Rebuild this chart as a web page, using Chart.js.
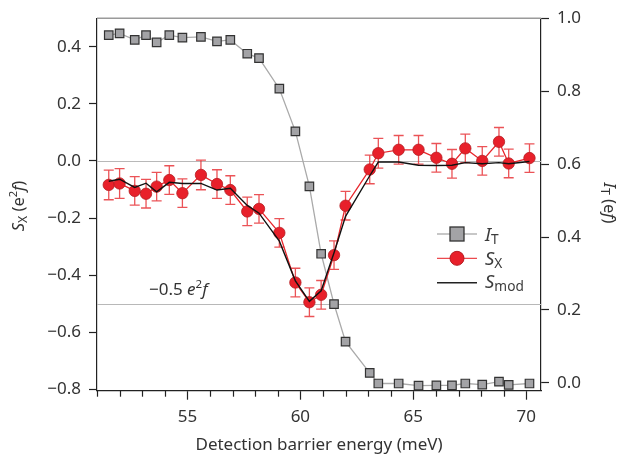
<!DOCTYPE html>
<html><head><meta charset="utf-8">
<script src="https://cdn.jsdelivr.net/npm/chart.js@4/dist/chart.umd.min.js"></script>
<style>html,body{margin:0;padding:0;background:#fff}#c{display:block}</style>
</head><body>
<canvas id="c" width="620" height="455"></canvas>
<script>
// ---- data ----
const energy = [51.52, 52.0, 52.67, 53.17, 53.64, 54.2, 54.78, 55.6, 56.31, 56.9, 57.65, 58.17, 59.07, 59.78, 60.4, 60.92, 61.49, 62.0, 63.07, 63.45, 64.35, 65.23, 66.02, 66.71, 67.3, 68.05, 68.79, 69.22, 70.14];
const itValues = [0.954, 0.959, 0.941, 0.954, 0.934, 0.954, 0.947, 0.949, 0.937, 0.941, 0.903, 0.891, 0.807, 0.690, 0.539, 0.354, 0.216, 0.113, 0.027, -0.002, -0.002, -0.008, -0.007, -0.007, -0.002, -0.005, 0.003, -0.006, -0.002];
const sxValues = [-0.084, -0.079, -0.105, -0.115, -0.090, -0.067, -0.113, -0.049, -0.081, -0.102, -0.177, -0.168, -0.252, -0.426, -0.495, -0.469, -0.330, -0.157, -0.030, 0.027, 0.039, 0.039, 0.011, -0.010, 0.044, 0.000, 0.067, -0.009, 0.010];
const sxErr = [0.052, 0.052, 0.05, 0.05, 0.05, 0.05, 0.05, 0.052, 0.05, 0.05, 0.05, 0.05, 0.05, 0.05, 0.05, 0.05, 0.05, 0.05, 0.05, 0.052, 0.05, 0.05, 0.05, 0.05, 0.05, 0.05, 0.05, 0.05, 0.05];
const smodValues = [-0.071, -0.064, -0.093, -0.078, -0.108, -0.075, -0.079, -0.079, -0.102, -0.096, -0.156, -0.183, -0.281, -0.420, -0.492, -0.455, -0.322, -0.194, -0.052, -0.004, -0.004, -0.015, -0.016, -0.015, -0.006, -0.010, -0.006, -0.010, -0.002];
const leftTicks = [-0.8, -0.6, -0.4, -0.2, 0.0, 0.2, 0.4];
const rightTicks = [0.0, 0.2, 0.4, 0.6, 0.8, 1.0];
const xTicks = [51,52,53,54,55,56,57,58,59,60,61,62,63,64,65,66,67,68,69,70];
const xMajor = [55, 60, 65, 70];
const refLines = [0.0, -0.5];

const FONT = '"Noto Sans", "Open Sans", sans-serif';
const TXT = '#333';

function segSize(s, size){ return s.sub ? size*0.74 : (s.sup ? size*0.68 : size); }
function richWidth(ctx, segs, size){
  let w = 0;
  segs.forEach(s=>{
    ctx.font = (s.it?'italic ':'') + segSize(s,size) + 'px ' + FONT;
    w += ctx.measureText(s.t).width;
  });
  return w;
}
function drawRich(ctx, segs, x, y, size, align){
  const w = richWidth(ctx, segs, size);
  let cx = align==='center' ? x - w/2 : (align==='right' ? x - w : x);
  ctx.textBaseline = 'alphabetic';
  ctx.textAlign = 'left';
  segs.forEach(s=>{
    ctx.font = (s.it?'italic ':'') + segSize(s,size) + 'px ' + FONT;
    const dy = s.sub ? size*0.18 : (s.sup ? -size*0.40 : 0);
    ctx.fillText(s.t, cx, y + dy);
    cx += ctx.measureText(s.t).width;
  });
}

const deco = {
  id: 'deco',
  beforeDatasetsDraw(chart){
    const {ctx, chartArea:a, scales:{y}} = chart;
    ctx.save();
    ctx.strokeStyle = '#b8b8b8'; ctx.lineWidth = 1.2;
    refLines.forEach(v=>{
      const py = Math.round(y.getPixelForValue(v))+0.5;
      ctx.beginPath(); ctx.moveTo(a.left, py); ctx.lineTo(a.right, py); ctx.stroke();
    });
    ctx.strokeStyle = '#9a9a9a'; ctx.lineWidth = 1.5;
    ctx.beginPath(); ctx.moveTo(a.left, a.top); ctx.lineTo(a.right, a.top); ctx.stroke();
    ctx.restore();
  },
  beforeDatasetDraw(chart, args){
    if (args.index !== 1) return;
    const {ctx, scales:{x, y}} = chart;
    ctx.save();
    ctx.strokeStyle = 'rgba(230,40,45,0.8)'; ctx.lineWidth = 1.3;
    energy.forEach((e,i)=>{
      const px = x.getPixelForValue(e);
      const y1 = y.getPixelForValue(sxValues[i]+sxErr[i]);
      const y2 = y.getPixelForValue(sxValues[i]-sxErr[i]);
      ctx.beginPath();
      ctx.moveTo(px, y1); ctx.lineTo(px, y2);
      ctx.moveTo(px-5, y1); ctx.lineTo(px+5, y1);
      ctx.moveTo(px-5, y2); ctx.lineTo(px+5, y2);
      ctx.stroke();
    });
    ctx.restore();
  },
  afterDraw(chart){
    const {ctx, chartArea:a, scales:{x, y}} = chart;
    ctx.save();
    // minor x ticks
    ctx.strokeStyle = '#222'; ctx.lineWidth = 1.2;
    xTicks.forEach(v=>{
      if (xMajor.includes(v)) return;
      const px = Math.round(x.getPixelForValue(v))+0.5;
      ctx.beginPath(); ctx.moveTo(px, a.bottom); ctx.lineTo(px, a.bottom+6); ctx.stroke();
    });
    ctx.fillStyle = TXT;
    // annotation
    drawRich(ctx, [{t:'\u22120.5 '},{t:'e',it:true},{t:'2',sup:true},{t:'f',it:true}], x.getPixelForValue(53.3), y.getPixelForValue(-0.468), 17, 'left');
    // axis titles
    ctx.save();
    ctx.translate(24, 206); ctx.rotate(-Math.PI/2);
    drawRich(ctx, [{t:'S',it:true},{t:'X',sub:true},{t:' (e'},{t:'2',sup:true},{t:'f',it:true},{t:')'}], 0, 0, 16.5, 'center');
    ctx.restore();
    ctx.save();
    ctx.translate(604, 203); ctx.rotate(Math.PI/2);
    drawRich(ctx, [{t:'I',it:true},{t:'T',sub:true},{t:' (e'},{t:'f',it:true},{t:')'}], 0, 0, 16.5, 'center');
    ctx.restore();
    ctx.font = '17px ' + FONT; ctx.textAlign = 'center'; ctx.textBaseline = 'alphabetic';
    ctx.fillText('Detection barrier energy (meV)', (a.left+a.right)/2, 450);
    // legend
    const lx1 = 437, lx2 = 477, lmid = 457, tx = 485;
    const rows = [234, 258.3, 282.7];
    // I_T
    ctx.strokeStyle = '#b4b4b4'; ctx.lineWidth = 1.3;
    ctx.beginPath(); ctx.moveTo(lx1, rows[0]); ctx.lineTo(lx2, rows[0]); ctx.stroke();
    ctx.fillStyle = '#a3a3a6'; ctx.strokeStyle = '#333'; ctx.lineWidth = 1.3;
    ctx.fillRect(lmid-7, rows[0]-7, 14, 14); ctx.strokeRect(lmid-7, rows[0]-7, 14, 14);
    // S_X
    ctx.strokeStyle = '#ec4a4e'; ctx.lineWidth = 1.3;
    ctx.beginPath(); ctx.moveTo(lx1, rows[1]); ctx.lineTo(lx2, rows[1]); ctx.stroke();
    ctx.fillStyle = '#e8202a'; ctx.strokeStyle = '#b51d22'; ctx.lineWidth = 1;
    ctx.beginPath(); ctx.arc(lmid, rows[1], 7, 0, Math.PI*2); ctx.fill(); ctx.stroke();
    // S_mod
    ctx.strokeStyle = '#222'; ctx.lineWidth = 1.4;
    ctx.beginPath(); ctx.moveTo(lx1, rows[2]); ctx.lineTo(lx2, rows[2]); ctx.stroke();
    ctx.fillStyle = '#3c3c3c';
    drawRich(ctx, [{t:'I',it:true},{t:'T',sub:true}], tx, 241, 18.5, 'left');
    drawRich(ctx, [{t:'S',it:true},{t:'X',sub:true}], tx, 265, 18.5, 'left');
    drawRich(ctx, [{t:'S',it:true},{t:'mod',sub:true}], tx, 288, 18.5, 'left');
    ctx.restore();
  }
};

const fmt = v => (v < -1e-9 ? '\u2212' : '') + Math.abs(v).toFixed(1);
const pts = arr => energy.map((e,i)=>({x:e, y:arr[i]}));

new Chart(document.getElementById('c'), {
  type: 'line',
  data: {
    datasets: [
      { label:'S_mod', data: pts(smodValues), yAxisID:'y', borderColor:'#111', borderWidth:1.4, pointRadius:0, tension:0, order:1 },
      { label:'S_X', data: pts(sxValues), yAxisID:'y', borderColor:'#e8262c', borderWidth:1.3, pointStyle:'circle', pointRadius:5.7, pointBackgroundColor:'#e8202a', pointBorderColor:'#b51d22', pointBorderWidth:0.8, tension:0, order:2 },
      { label:'I_T', data: pts(itValues), yAxisID:'y2', borderColor:'#aaaaaa', borderWidth:1.3, pointStyle:'rect', pointRadius:6, pointBackgroundColor:'#a3a3a6', pointBorderColor:'#333', pointBorderWidth:1.2, tension:0, order:3 }
    ]
  },
  options: {
    responsive:false, animation:false, devicePixelRatio:1,
    layout:{ padding:{ top:15, left:0, right:0, bottom:0 } },
    plugins:{ legend:{display:false}, tooltip:{enabled:false} },
    scales:{
      x:{ type:'linear', min:51, max:70.65,
        afterBuildTicks: s => { s.ticks = xTicks.map(v=>({value:v})); },
        afterFit: s => { s.height = 64.3; },
        grid:{ drawOnChartArea:false, drawTicks:true, tickLength:9, tickWidth:1.2,
          tickColor: c => (c.tick && xMajor.includes(c.tick.value)) ? '#222' : 'rgba(0,0,0,0)' },
        border:{ color:'#222', width:1.2 },
        ticks:{ autoSkip:false, maxRotation:0, padding:7, color:TXT, font:{family:FONT, size:17},
          callback: v => xMajor.includes(v) ? String(v) : '' }
      },
      y:{ type:'linear', position:'left', min:-0.805, max:0.5,
        afterBuildTicks: s => { s.ticks = leftTicks.map(v=>({value:v})); },
        afterFit: s => { s.width = 97; },
        grid:{ drawOnChartArea:false, tickLength:8, tickColor:'#222', tickWidth:1.2 },
        border:{ color:'#222', width:1.2 },
        ticks:{ padding:8, color:TXT, font:{family:FONT, size:17}, callback: v => fmt(v) }
      },
      y2:{ type:'linear', position:'right', min:-0.0218, max:1.0005,
        afterBuildTicks: s => { s.ticks = rightTicks.map(v=>({value:v})); },
        afterFit: s => { s.width = 79; },
        grid:{ drawOnChartArea:false, tickLength:8, tickColor:'#222', tickWidth:1.2 },
        border:{ color:'#222', width:1.2 },
        ticks:{ padding:8, color:TXT, font:{family:FONT, size:17}, callback: v => fmt(v) }
      }
    }
  },
  plugins:[deco]
});
</script>
</body></html>
